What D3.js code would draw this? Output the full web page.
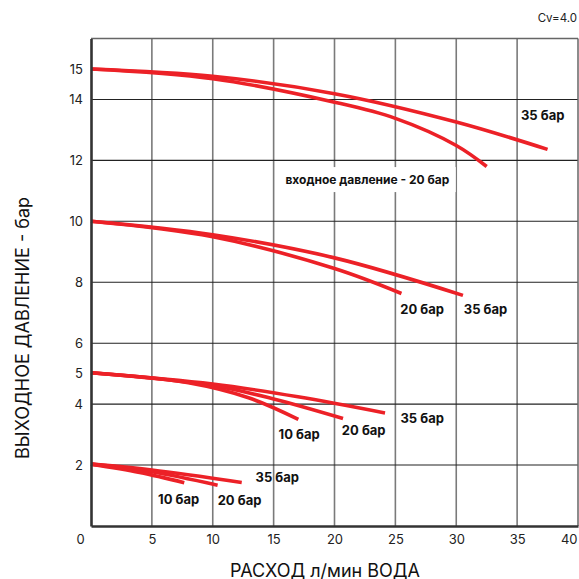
<!DOCTYPE html>
<html><head><meta charset="utf-8">
<script src="https://cdn.jsdelivr.net/npm/d3@7"></script>
<style>
body{margin:0;background:#fff;}
svg{display:block;font-family:Inter,"Noto Sans",sans-serif;}
</style></head>
<body>
<svg id="c" width="579" height="579"></svg>
<script>
// Flow (l/min) vs outlet pressure (bar)
const xTicks = [0,5,10,15,20,25,30,35,40];
const yTickLabels = [2,4,5,6,8,10,12,14,15];
const yGrid = [2,4,6,8,10,12,14];

const top35 = [[0,15.0],[10,14.76],[20,14.19],[30,13.26],[37.5,12.36]];
const top20 = [[0,15.0],[10,14.68],[20,13.91],[25,13.38],[30,12.49],[32.5,11.8]];
const mid35 = [[0,10.0],[10,9.56],[20,8.8],[30.55,7.57]];
const mid20 = [[0,10.0],[10,9.49],[20,8.45],[25.5,7.63]];
const low35 = [[0,5.03],[10,4.66],[17,4.24],[24.15,3.71]];
const low20 = [[0,5.03],[10,4.61],[15,4.17],[20.7,3.53]];
const low10 = [[0,5.03],[8,4.7],[13,4.2],[17.03,3.5]];
const bot35 = [[0,2.03],[5,1.84],[12.38,1.43]];
const bot20 = [[0,2.03],[5,1.78],[10.4,1.34]];
const bot10 = [[0,2.03],[4,1.76],[7.66,1.42]];
const curves = [top35, top20, mid35, mid20, low35, low20, low10, bot35, bot20, bot10];

// labels: [text, x centre (l/min), y centre (bar)]
const labels = [
  ["35 бар", 37.1, 13.48],
  ["20 бар", 27.2, 7.11],
  ["35 бар", 32.4, 7.11],
  ["10 бар", 17.1, 3.02],
  ["20 бар", 22.4, 3.15],
  ["35 бар", 27.2, 3.54],
  ["35 бар", 15.3, 1.61],
  ["10 бар", 7.2, 0.89],
  ["20 бар", 12.2, 0.85]
];
const inletLabel = ["входное давление - 20 бар", 22.7, 11.37];

const svg = d3.select("#c");
const L = 91, R = 578, T = 38.5, B = 526;
const x = d3.scaleLinear().domain([0,40]).range([L,R]);
const y = d3.scaleLinear().domain([0,16]).range([B,T]);

// vertical grid
svg.append("g").selectAll("line").data(xTicks.slice(1,-1)).join("line")
  .attr("x1",d=>x(d)).attr("x2",d=>x(d)).attr("y1",T).attr("y2",B)
  .attr("stroke","#7a7a7a").attr("stroke-width",1.6);
// horizontal grid
svg.append("g").selectAll("line").data(yGrid).join("line")
  .attr("x1",L).attr("x2",R).attr("y1",d=>y(d)).attr("y2",d=>y(d))
  .attr("stroke","#222").attr("stroke-width",1.1);

// frame
svg.append("line").attr("x1",L).attr("x2",R).attr("y1",T).attr("y2",T).attr("stroke","#666").attr("stroke-width",1.5);
svg.append("line").attr("x1",R).attr("x2",R).attr("y1",T).attr("y2",B).attr("stroke","#666").attr("stroke-width",1.5);

// inlet label with white box
const il = svg.append("g");
const ilText = il.append("text").attr("x",x(inletLabel[1])).attr("y",y(inletLabel[2]))
  .attr("text-anchor","middle").attr("dominant-baseline","central")
  .attr("font-size",12).attr("font-weight",700).attr("fill","#111").text(inletLabel[0]);
const bb = ilText.node().getBBox();
il.insert("rect","text").attr("x",bb.x-6).attr("y",bb.y-5).attr("width",bb.width+12).attr("height",bb.height+10).attr("fill","#fff");

// curves
const line = d3.line().x(d=>x(d[0])).y(d=>y(d[1])).curve(d3.curveCatmullRom.alpha(0.5));
svg.append("g").selectAll("path").data(curves).join("path")
  .attr("d",line).attr("fill","none").attr("stroke","#ec2127")
  .attr("stroke-width",3.6).attr("stroke-linecap","butt");

// axes (left & bottom)
const xAxis = d3.axisBottom(x).tickValues(xTicks).tickSize(0).tickPadding(9);
const gx = svg.append("g").attr("transform",`translate(0,${B})`).call(xAxis);
gx.select(".domain").attr("stroke","#333").attr("stroke-width",2.6);
gx.selectAll("text").attr("font-size",13).attr("fill","#222").attr("font-family","Inter,sans-serif");
gx.selectAll(".tick").filter(d=>d===0).select("text").attr("dx",-11);
gx.selectAll(".tick").filter(d=>d===40).select("text").attr("text-anchor","end").attr("dx",-1);

const yAxis = d3.axisLeft(y).tickValues(yTickLabels).tickSize(0).tickPadding(8);
const gy = svg.append("g").attr("transform",`translate(${L},0)`).call(yAxis);
gy.select(".domain").attr("stroke","#333").attr("stroke-width",2.6);
gy.selectAll("text").attr("font-size",13).attr("fill","#222").attr("font-family","Inter,sans-serif");

// curve labels
svg.append("g").selectAll("text").data(labels).join("text")
  .attr("x",d=>x(d[1])).attr("y",d=>y(d[2]))
  .attr("text-anchor","middle").attr("dominant-baseline","central")
  .attr("font-size",13).attr("font-weight",700).attr("fill","#111").text(d=>d[0]);

// titles
svg.append("text").attr("x",325).attr("y",570).attr("text-anchor","middle").attr("dominant-baseline","central")
  .attr("font-size",18).attr("fill","#111").text("РАСХОД л/мин ВОДА");
svg.append("text").attr("transform","translate(22,328) rotate(-90)").attr("text-anchor","middle").attr("dominant-baseline","central")
  .attr("font-size",18).attr("fill","#111").text("ВЫХОДНОЕ ДАВЛЕНИЕ - бар");
svg.append("text").attr("x",577).attr("y",18).attr("text-anchor","end").attr("dominant-baseline","central")
  .attr("font-size",11.5).attr("fill","#222").text("Cv=4.0");
</script>
</body></html>
